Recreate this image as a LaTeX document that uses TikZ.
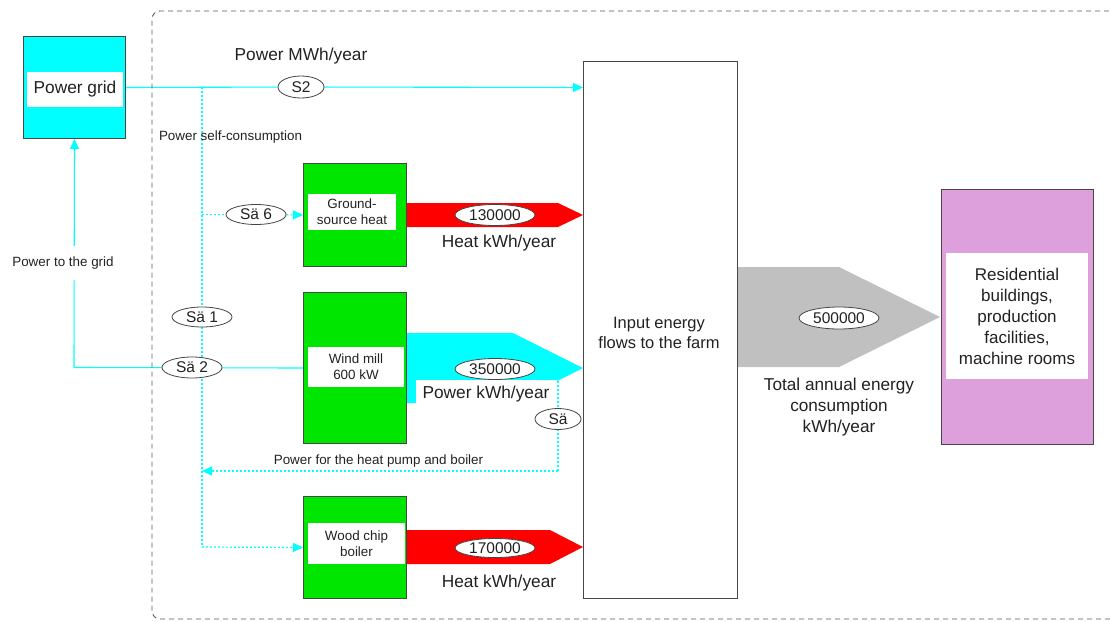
\documentclass[tikz,border=0pt]{standalone}
\usepackage{fontspec}
\setmainfont{Liberation Sans}
\usetikzlibrary{arrows.meta,shapes.geometric}
\definecolor{cyanF}{RGB}{0,255,255}
\definecolor{greenF}{RGB}{0,230,0}
\definecolor{redF}{RGB}{255,0,0}
\definecolor{grayF}{RGB}{192,192,192}
\definecolor{plumF}{RGB}{221,160,221}
\definecolor{edge}{RGB}{70,70,70}
\definecolor{txt}{RGB}{34,34,34}
\pgfdeclarelayer{back}
\pgfdeclarelayer{lines}
\pgfsetlayers{back,lines,main}
\begin{document}
\begin{tikzpicture}[x=1pt,y=-1pt,
  big/.style={font=\fontsize{17.3}{21}\selectfont, text=txt, inner sep=0},
  small/.style={font=\fontsize{13.4}{16}\selectfont, text=txt, inner sep=0},
  lbl/.style={fill=white, inner sep=0, align=center, text=txt},
  srcbox/.style={draw=edge, line width=1, fill=greenF, anchor=north west, inner sep=0},
  framebox/.style={draw=edge, line width=1, anchor=north west, inner sep=0},
  oval/.style={ellipse, draw=edge, line width=0.8, fill=white, inner sep=0, font=\fontsize{15.5}{18}\selectfont, text=txt},
  cline/.style={draw=cyanF, line width=1.1},
  dline/.style={draw=cyanF, line width=1.2, dash pattern=on 2pt off 2pt},
  tip/.style={-{Triangle[length=10pt,width=9pt]}},
]
\begin{pgfonlayer}{back}
\fill[white] (0,0) rectangle (1110,621);
\end{pgfonlayer}
\useasboundingbox (0,0) rectangle (1110,621);
% outer dashed frame
\draw[black!65, line width=0.9, dash pattern=on 5pt off 4pt, rounded corners=8] (1118,11) -- (152,11) -- (152,619) -- (1118,619);

% fat flow arrows
\fill[redF] (406,203) -- (558,203) -- (583,215) -- (558,227) -- (406,227) -- cycle;
\fill[cyanF] (406,333) -- (513,333) -- (583,368) -- (513,403) -- (406,403) -- cycle;
\fill[redF] (406,530) -- (550,530) -- (583,547) -- (550,564) -- (406,564) -- cycle;
\fill[grayF] (737,267) -- (839,267) -- (940,317) -- (839,367) -- (737,367) -- cycle;

% boxes
\node[framebox, fill=cyanF, minimum width=102, minimum height=102] (pg) at (23,36) {};
\node[lbl, big, minimum width=96, minimum height=35] (pgl) at (75,89.5) {Power grid};

\node[framebox, fill=white, minimum width=154, minimum height=537] (in) at (583,61) {};
\node[font=\fontsize{16.5}{20}\selectfont, text=txt, align=center, inner sep=0] (inl) at (659,333) {Input energy\\flows to the farm};

\node[srcbox, minimum width=103, minimum height=103] (gs) at (303,163) {};
\node[lbl, small, minimum width=88, minimum height=36] (gsl) at (352,212) {Ground-\\source heat};
\node[srcbox, minimum width=103, minimum height=151] (wm) at (303,292) {};
\node[lbl, small, minimum width=96, minimum height=40] (wml) at (356,367) {Wind mill\\600 kW};
\node[srcbox, minimum width=103, minimum height=102] (wc) at (303,496) {};
\node[lbl, small, minimum width=97, minimum height=41] (wcl) at (356.5,543.5) {Wood chip\\boiler};

\node[framebox, fill=plumF, minimum width=152, minimum height=255] (res) at (941,189) {};
\node[lbl, font=\fontsize{17}{21}\selectfont, minimum width=142, minimum height=126] (resl) at (1017,316) {Residential\\buildings,\\production\\facilities,\\machine rooms};

% white label over the power arrow
\node[big, fill=white, minimum width=141, minimum height=28] (pwl) at (486,394) {Power kWh/year};

% value ovals
\node[oval, minimum width=80, minimum height=21] (v1) at (495,215) {130000};
\node[oval, minimum width=80, minimum height=21] (v2) at (495,369) {350000};
\node[oval, minimum width=80, minimum height=19] (v3) at (495,548) {170000};
\node[oval, minimum width=80, minimum height=22] (v4) at (839,318) {500000};

% meter ovals
\node[oval, minimum width=46, minimum height=22] (s2) at (301,87) {S2};
\node[oval, minimum width=60, minimum height=20] (sa6) at (256,214.5) {Sä 6};
\node[oval, minimum width=60, minimum height=20] (sa1) at (202,317) {Sä 1};
\node[oval, minimum width=60, minimum height=21] (sa2) at (192,367.5) {Sä 2};
\node[oval, minimum width=46, minimum height=21] (sa) at (558,419) {Sä};

% texts
\node[big] (t1) at (499,243) {Heat kWh/year};
\node[big] (t2) at (499,583) {Heat kWh/year};
\node[big, align=center, font=\fontsize{17.2}{21}\selectfont] (t3) at (839,407) {Total annual energy\\consumption\\kWh/year};
\node[big] (t4) at (301,56) {Power MWh/year};
\node[small] (t5) at (230.5,137) {Power self-consumption};
\node[small] (t6) at (378.5,461) {Power for the heat pump and boiler};
\node[small, fill=white, inner ysep=11, inner xsep=1] (ptg) at (63,263) {Power to the grid};

% junction coordinates
\coordinate (j1) at (202,87);
\coordinate (j3) at (202,214.5);
\coordinate (j2) at (202,547);
\coordinate (j4) at (202,471);
\coordinate (c1) at (74,367.5);
\coordinate (satop) at (558,381);
\coordinate (sabot) at (558,471);

% connectors (on a layer below the nodes)
\begin{pgfonlayer}{lines}
\draw[cline, tip] (pg.east) -- (s2) -- (in.west |- pg.east);
\draw[dline] (j1) -- (j2);
\draw[dline] (j3) -- (sa6);
\draw[dline, tip] (sa6) -- (gs.west);
\draw[dline, tip] (j2) -- (wc.west);
\draw[dline] (satop) -- (sabot);
\draw[dline, tip] (sabot) -- (j4);
\draw[cline] (wm.west) -- (c1);
\draw[cline, tip] (c1) -- (pg.south);
\end{pgfonlayer}
\end{tikzpicture}
\end{document}
